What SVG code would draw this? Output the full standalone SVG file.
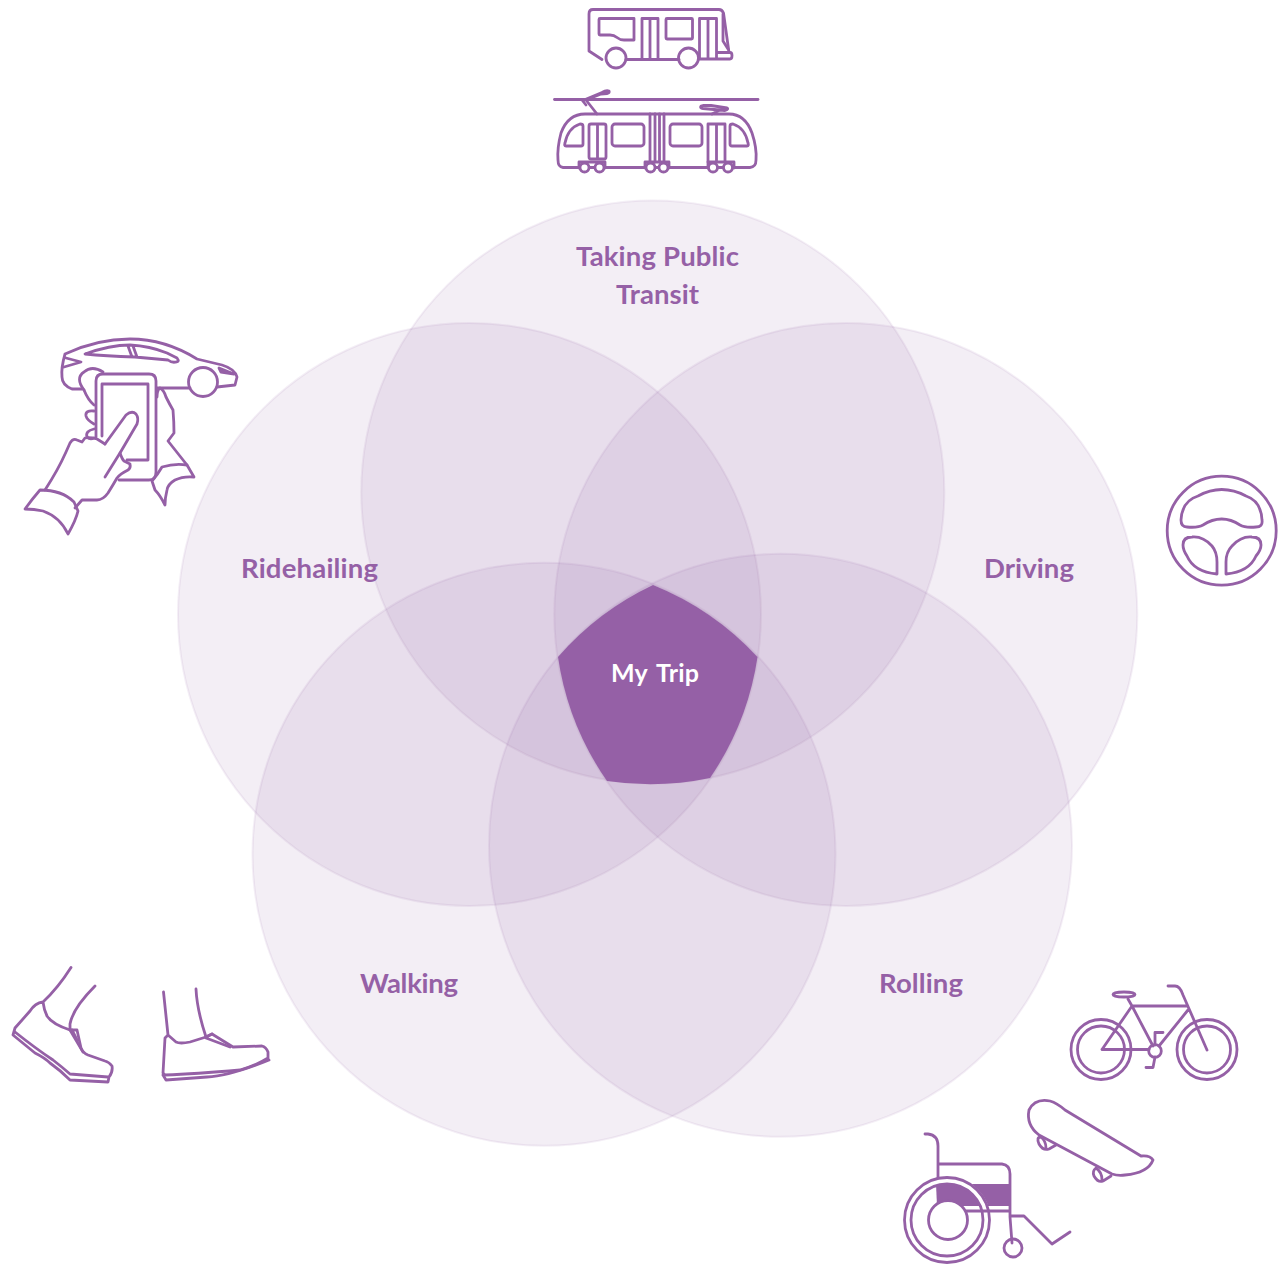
<svg xmlns="http://www.w3.org/2000/svg" width="1283" height="1264" viewBox="0 0 1283 1264">
<style>
.c{fill:#9560a6;fill-opacity:.11;stroke:#9560a6;stroke-opacity:.1;stroke-width:2}
.l{font-family:"Lato","Liberation Sans",sans-serif;font-weight:700;font-size:27.5px;fill:#9560a6;text-anchor:middle}
.i{fill:none;stroke:#9560a6;stroke-width:2.8;stroke-linecap:round;stroke-linejoin:round}
.w{fill:#fff}
</style>
<rect width="1283" height="1264" fill="#fff"/>
<g id="circle-transit"><circle class="c" cx="652.800" cy="492" r="291.500"/></g>
<g id="circle-ridehailing"><circle class="c" cx="469.500" cy="614.500" r="291.500"/></g>
<g id="circle-driving"><circle class="c" cx="845.800" cy="614.500" r="291.500"/></g>
<g id="circle-walking"><circle class="c" cx="544" cy="854.300" r="291.500"/></g>
<g id="circle-rolling"><circle class="c" cx="780.500" cy="845.300" r="291.500"/></g>
<g id="my-trip">
<path d="M653 585A291 291 0 0 1 757.500 657A291 291 0 0 1 710 778A291 291 0 0 1 607 781A291 291 0 0 1 558 657A291 291 0 0 1 653 585Z" fill="#9560a6"/>
<text class="l" x="655" y="682" textLength="88" style="fill:#fff;font-size:25px;word-spacing:3px">My Trip</text>
</g>
<g id="label-transit"><text class="l" x="657.500" y="266" textLength="163">Taking Public</text><text class="l" x="657.500" y="304" textLength="83">Transit</text></g>
<g id="label-ridehailing"><text class="l" x="309.500" y="578" textLength="137">Ridehailing</text></g>
<g id="label-driving"><text class="l" x="1029" y="578" textLength="90">Driving</text></g>
<g id="label-walking"><text class="l" x="409" y="993" textLength="98">Walking</text></g>
<g id="label-rolling"><text class="l" x="921" y="993" textLength="84">Rolling</text></g>

<g id="icon-bus" class="i">
<path d="M602 59.500L589 51V14Q589 9.500 593 9.500H719Q722 9.500 723.500 13L729 52.500M679 59.500H626"/>
<circle cx="616" cy="58" r="10"/><circle cx="688.500" cy="58" r="10"/>
<path d="M600 18.500H634V40H624Q620 40 617 37.500Q614 35 610 35H600Q599 35 599 34V19.500Q599 18.500 600 18.500Z"/>
<path d="M642 59V18.500H658V59M650 18.500V59"/>
<rect x="666" y="18.500" width="26.500" height="20.500" rx="1"/>
<path d="M699.500 59V18.500H716.500V59M708 18.500V59M723 14V41L728 49M717 52.500H730Q732 52.500 732 55.500Q732 59 730 59H699"/>
</g>
<g id="icon-tram" class="i">
<path d="M554.500 99.500H758"/>
<path d="M584 100L602 92.500Q606 90 609 91Q610 93 607 93.500L601 94L586 100L597 114M582 100L586 105"/>
<path d="M701 106Q699.500 108 703 108.500L725 110.500Q729 109 727 108L711 105.500L703 105.500ZM712 114L719 110.500"/>
<path d="M585 114H729Q745 114 752 133Q757 148 756 160Q756 167 750 167.500H563Q558 167 558 160Q557 148 561 133Q568 114 585 114Z"/>
<path d="M566 146Q564 146 565 143Q568 128 580 124Q583 124 583 126V144Q583 146 581 146ZM730 126Q730 124 733 124Q745 128 748 143Q749 146 747 146H732Q730 146 730 144Z"/>
<path d="M591 159Q589 159 589 157V126Q589 124 591 124H604Q606 124 606 126V157Q606 159 604 159ZM597.500 124V159"/>
<rect x="612" y="124" width="32" height="22" rx="3"/><rect x="670" y="124" width="32" height="22" rx="3"/>
<path d="M650 114V162M655 114V162M659.500 114V162M664 114V162"/>
<path d="M708 162V124H725V162M716.500 124V162"/>
<path d="M579 162H605V168M579 162V168M645 162H669V168M645 162V168M708 162H734V168M708 162V168"/>
<circle class="w" cx="584.500" cy="167.500" r="4.500"/><circle class="w" cx="599.500" cy="167.500" r="4.500"/><circle class="w" cx="650.500" cy="167.500" r="4.500"/><circle class="w" cx="663.500" cy="167.500" r="4.500"/><circle class="w" cx="713" cy="167.500" r="4.500"/><circle class="w" cx="728" cy="167.500" r="4.500"/>
</g>
<g id="icon-ridehailing" class="i">
<path d="M82 389H72Q62 385 62 377Q61 368 65 354Q97 339 130 339Q165 339 197 359L222 365Q235 369 237 377L235 385L217 387M190 388H157"/>
<circle cx="203" cy="382" r="14.500"/>
<path d="M84 390Q75 378 84 372Q92 365 103 372"/>
<path d="M85 354Q110 345 130 345Q150 346 167 353L177 358Q180 362 176 362Q172 363 168 360L135 357Q105 356 85 354ZM128 346L132 357M133 346L137 357M66 358L81 362L64 367M219 368L234 374L221 372Z"/>
<path d="M96 437V381Q96 374 103 374H149Q156 374 156 381V472Q156 480 149 480H119"/>
<path d="M102 436V384H148V460H127"/>
<path d="M105 444L126 415Q132 410 136 414Q139 418 137 424L120 453L105 477"/>
<path d="M45 490Q58 470 66 452L70 443Q73 438 77 440L82 442L85 438Q90 437 97 439L105 444"/>
<path d="M120 453Q122 459 124 461L130 464Q131 468 128 470Q120 474 117 478Q113 485 108 493Q103 500 97 500H82L75 508"/>
<path d="M25 509Q33 498 40 490Q62 490 74 502L78 511Q76 520 68 534Q60 517 43 511Q34 509 25 509Z"/>
<path d="M84 390Q88 400 94 405M94 411Q85 410 86 416Q87 420 94 424M94 429Q85 431 87 437Q90 440 94 438"/>
<path d="M157 397Q157 390 160 388Q164 390 166 397Q170 405 173 410Q174 422 174 433L168 441L187 465"/>
<path d="M152 481Q158 474 162 467Q175 463 187 465L194 477Q183 476 175 480Q168 484 167 490Q165 498 165 505Q160 495 155 490Z"/>
</g>
<g id="icon-driving" class="i">
<circle cx="1221.700" cy="530.700" r="54.500"/>
<path d="M1181 520Q1182 501 1198 496Q1210 489.500 1221.700 489.500Q1234 489.500 1246 496Q1261 501 1262 520Q1263 527 1256 527Q1245 528 1240 525Q1231 519 1221.700 519Q1212 519 1203 525Q1198 528 1187 527Q1181 527 1181 520Z"/>
<path d="M1183 545Q1183 537 1192 537Q1203 536 1212 546Q1217 552 1217 562V574Q1194 572 1187 556Q1183 550 1183 545ZM1261 545Q1261 537 1252 537Q1241 536 1232 546Q1226 552 1226 562V574Q1249 572 1256 556Q1261 550 1261 545Z"/>
</g>
<g id="icon-walking" class="i">
<path d="M71 967.500Q58 988 43 1002Q35 1003 30 1011L15 1028L13 1035L35 1053Q45 1058 50 1063Q60 1070 70 1080L108 1082L109 1077Q113 1072 112 1066Q109 1062 105 1061L88 1055Q83 1053 81 1048L77 1030H70Q52 1024 47 1016Q44 1010 43 1002"/>
<path d="M95 986Q73 1008 70 1024V1030L83 1052M15 1032Q35 1048 53 1060Q62 1067 70 1074L108 1077M72 1030L77 1040"/>
<path d="M163.500 992L168 1035L165 1038L163 1073L165 1075Q195 1074 240 1070Q255 1066 268 1058V1052Q266 1047 262 1046L233 1047L212 1034L206 1037L190 1042Q180 1044 176 1042L168 1035"/>
<path d="M196 989Q197 1010 206 1037L212 1034M163 1075L166 1080L207 1077Q230 1076 269 1060M206 1038L230 1047"/>
</g>
<g id="icon-bike" class="i">
<circle cx="1101" cy="1049.500" r="30"/><circle cx="1101" cy="1049.500" r="23.500"/><circle cx="1207" cy="1049.500" r="30"/><circle cx="1207" cy="1049.500" r="23.500"/>
<circle cx="1155" cy="1051" r="6.300"/>
<path d="M1102 1049.500H1149M1102 1049.500L1132 1006L1153 1046M1132 1006H1187M1188 1010L1159 1046M1128 999L1132 1006M1168 986H1175Q1180 986 1183 995L1207 1050"/>
<ellipse cx="1124" cy="994.500" rx="11" ry="2.500"/>
<path d="M1155 1045V1032.500H1163M1155 1057L1153 1067.500H1146"/>
</g>
<g id="icon-skateboard" class="i">
<path d="M1039 1135Q1026 1125 1029 1110Q1035 1098 1050 1101Q1057 1103 1065 1110L1141 1156Q1150 1155 1153 1160Q1148 1173 1125 1175Q1118 1176 1112 1174Z"/>
<path d="M1041 1137Q1036 1137 1039 1144Q1043 1151 1049 1149L1056 1145M1041 1137Q1046 1141 1046 1148"/>
<path d="M1096 1168Q1092 1171 1094 1176Q1098 1183 1103 1181L1111 1176M1096 1168Q1102 1172 1102 1180"/>
</g>
<g id="icon-wheelchair" class="i">
<path d="M936 1184H1010V1206H937Z" fill="#9560a6" stroke="none"/>
<circle cx="947" cy="1220" r="40" style="stroke:#fff;stroke-width:7"/>
<path d="M925 1134H928Q938 1135 938 1146L938 1178M938 1164H1002Q1010 1165 1010 1174V1217L1012 1243M965 1211H1010M1010 1216H1024L1052 1244L1070 1232"/>
<circle cx="947" cy="1220" r="42.500"/><circle cx="947" cy="1220" r="36"/>
<circle class="w" cx="948" cy="1220" r="19.500"/>
<circle cx="1013" cy="1248" r="9"/>
</g>
</svg>
